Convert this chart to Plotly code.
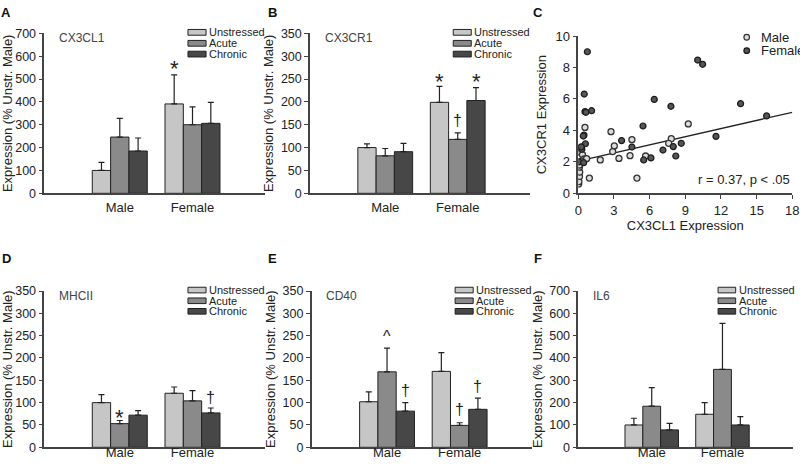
import plotly.graph_objects as go
from plotly.subplots import make_subplots

# ---------------- data ----------------
sexes = ["Male", "Female"]
conditions = ["Unstressed", "Acute", "Chronic"]

# per condition: [Male, Female]
cx3cl1_mean = [[100, 391], [246, 300], [185, 306]]
cx3cl1_err = [[35, 127], [82, 78], [57, 92]]
cx3cr1_mean = [[100, 199], [82, 118], [91, 203]]
cx3cr1_err = [[8, 35], [16, 14], [18, 28]]
mhcii_mean = [[100, 121], [53, 104], [72, 77]]
mhcii_err = [[18, 14], [7, 23], [10, 11]]
cd40_mean = [[102, 170], [169, 49], [81, 85]]
cd40_err = [[22, 42], [53, 6], [19, 25]]
il6_mean = [[100, 148], [184, 349], [78, 100]]
il6_err = [[30, 52], [83, 206], [29, 37]]

# significance marks: (sex index, condition index, symbol, y value)
cx3cl1_marks = [(1, 0, "*", 571)]
cx3cr1_marks = [(1, 0, "*", 257), (1, 2, "*", 257), (1, 1, "†", 160)]
mhcii_marks = [(0, 1, "*", 80), (1, 2, "†", 112)]
cd40_marks = [(0, 1, "^", 255), (0, 2, "†", 128), (1, 1, "†", 84), (1, 2, "†", 137)]
il6_marks = []

# scatter (panel C)
male_x = [0.56, 9.25, 2.75, 4.51, 3.03, 2.89, 3.42, 4.35, 5.66, 7.82, 7.6, 1.85, 0.93, 4.93,
          0.03, 0.05, 0.1, 0.12, 0.1, 0.1, 0.23, 0.2, 0.35, 0.5, 0.3, 0.7]
male_y = [4.19, 4.41, 3.92, 3.41, 3.01, 2.65, 2.22, 2.39, 2.37, 3.47, 3.18, 2.12, 0.97, 0.97,
          0.59, 0.74, 1.07, 1.35, 1.66, 1.8, 2.92, 2.58, 2.45, 2.18, 2.05, 2.2]
female_x = [0.76, 10.04, 10.46, 0.5, 6.39, 13.65, 7.79, 0.56, 0.64, 1.12, 5.44, 15.84, 11.58,
            0.48, 0.42, 0.6, 3.64, 4.51, 7.99, 8.66, 7.12, 8.2, 6.11, 5.5, 0.3, 0.25, 0.06, 0.45]
female_y = [9.0, 8.47, 8.2, 6.31, 5.97, 5.7, 5.53, 5.19, 5.15, 5.25, 4.28, 4.92, 3.62,
            3.7, 3.64, 3.15, 3.35, 2.94, 2.97, 3.18, 2.75, 2.37, 2.25, 2.12, 2.8, 2.95, 2.0, 1.95]
fit_x = [0, 18]
fit_y = [2.05, 5.15]

# ---------------- style / layout ----------------
FONT = "Liberation Sans, Arial, sans-serif"
BAR_COLORS = ["#c6c6c6", "#8a8a8a", "#474747"]
AXIS_COLOR = "#444444"
BARGAP = 0.244
W = (1 - BARGAP) / 3

FIG_W, FIG_H = 800, 468


def px_x(a):
    return a / FIG_W


def px_y(b):
    return 1 - b / FIG_H


x_dom = {(1, 1): (44.3, 265), (1, 2): (310, 530), (1, 3): (578.3, 792.3),
         (2, 1): (44.3, 265), (2, 2): (311.7, 532), (2, 3): (578.3, 793)}
y_dom = {1: (33.3, 193.3), 2: (291, 447.3)}

fig = make_subplots(rows=2, cols=3)

panels = [
    # (row, col, name, mean, err, marks, ymax, dtick)
    (1, 1, "CX3CL1", cx3cl1_mean, cx3cl1_err, cx3cl1_marks, 700, 100),
    (1, 2, "CX3CR1", cx3cr1_mean, cx3cr1_err, cx3cr1_marks, 350, 50),
    (2, 1, "MHCII", mhcii_mean, mhcii_err, mhcii_marks, 350, 50),
    (2, 2, "CD40", cd40_mean, cd40_err, cd40_marks, 350, 50),
    (2, 3, "IL6", il6_mean, il6_err, il6_marks, 700, 100),
]

annotations = []
shapes = []


def axis_index(r, c):
    return (r - 1) * 3 + c


for (r, c, name, mean, err, marks, ymax, dtick) in panels:
    idx = axis_index(r, c)
    xs = "x" if idx == 1 else f"x{idx}"
    ys = "y" if idx == 1 else f"y{idx}"
    for k, cond in enumerate(conditions):
        fig.add_trace(go.Bar(
            x=[0, 1], y=mean[k], name=cond,
            marker=dict(color=BAR_COLORS[k], line=dict(color="#222222", width=1)),
            error_y=dict(type="data", symmetric=False, array=err[k], arrayminus=[0, 0],
                         color="#222222", thickness=1.2, width=3),
            showlegend=False,
        ), row=r, col=c)
    xa, xb = x_dom[(r, c)]
    yt, yb = y_dom[r]
    fig.update_xaxes(row=r, col=c, domain=[px_x(xa), px_x(xb)], range=[-1.038, 1.997],
                     tickvals=[0, 1], ticktext=sexes, showline=True, linecolor=AXIS_COLOR,
                     linewidth=1.5, ticks="", showgrid=False, zeroline=False,
                     tickfont=dict(family=FONT, size=13, color="#222"),
                     ticklabelstandoff=1 if r == 1 else -8)
    fig.update_yaxes(row=r, col=c, domain=[px_y(yb), px_y(yt)], range=[0, ymax], dtick=dtick,
                     showline=True, linecolor=AXIS_COLOR, linewidth=1.5, ticks="outside",
                     ticklen=4, tickcolor=AXIS_COLOR, showgrid=False, zeroline=False,
                     tickfont=dict(family=FONT, size=12.5, color="#222"),
                     title=dict(text="Expression (% Unstr. Male)",
                                font=dict(family=FONT, size=13, color="#222"), standoff=4))
    xd = f"{xs} domain"
    yd = f"{ys} domain"
    # panel name
    annotations.append(dict(text=name, xref=xd, yref=yd, x=0.058, y=0.969, xanchor="left",
                            yanchor="middle", showarrow=False,
                            font=dict(family=FONT, size=12, color="#444")))
    # legend
    for k, cond in enumerate(conditions):
        yc = [1.006, 0.9375, 0.87][k]
        shapes.append(dict(type="rect", xref=xd, yref=yd, x0=0.651, x1=0.733,
                           y0=yc - 0.018, y1=yc + 0.018, fillcolor=BAR_COLORS[k],
                           line=dict(color="#222222", width=1)))
        annotations.append(dict(text=cond, xref=xd, yref=yd, x=0.738, y=yc, xanchor="left",
                                yanchor="middle", showarrow=False,
                                font=dict(family=FONT, size=11, color="#222")))
    # significance marks
    for (s, k, sym, yv) in marks:
        xpos = s + (k - 1) * W
        size = {"*": 22, "†": 16, "^": 16}[sym]
        shift = {"*": -6, "†": 0, "^": -3}[sym]
        annotations.append(dict(text=sym, xref=xs, yref=ys,
                                x=xpos, y=yv, yshift=shift, showarrow=False,
                                xanchor="center", yanchor="middle",
                                font=dict(family=FONT, size=size, color="#222")))

# ---------------- scatter panel C ----------------
fig.add_trace(go.Scatter(x=fit_x, y=fit_y, mode="lines", line=dict(color="#222", width=1.3),
                         showlegend=False), row=1, col=3)
fig.add_trace(go.Scatter(x=male_x, y=male_y, mode="markers", name="Male",
                         marker=dict(size=6, color="#dcdcdc", line=dict(color="#333", width=1.3)),
                         showlegend=False), row=1, col=3)
fig.add_trace(go.Scatter(x=female_x, y=female_y, mode="markers", name="Female",
                         marker=dict(size=6, color="#555555", line=dict(color="#1a1a1a", width=1.2)),
                         showlegend=False), row=1, col=3)
xa, xb = x_dom[(1, 3)]
fig.update_xaxes(row=1, col=3, domain=[px_x(xa), px_x(xb)], range=[0, 18], dtick=3,
                 showline=True, linecolor=AXIS_COLOR, linewidth=1.5, ticks="outside", ticklen=4,
                 tickcolor=AXIS_COLOR, showgrid=False, zeroline=False,
                 tickfont=dict(family=FONT, size=13, color="#222"),
                 title=dict(text="CX3CL1 Expression", font=dict(family=FONT, size=13, color="#222"),
                            standoff=2))
fig.update_yaxes(row=1, col=3, domain=[px_y(193.3), px_y(36)], range=[0, 10], dtick=2,
                 showline=True, linecolor=AXIS_COLOR, linewidth=1.5, ticks="outside", ticklen=4,
                 tickcolor=AXIS_COLOR, showgrid=False, zeroline=False,
                 tickfont=dict(family=FONT, size=13, color="#222"),
                 title=dict(text="CX3CR1 Expression", font=dict(family=FONT, size=13, color="#222"),
                            standoff=6))
for k, (lab, fc, lc) in enumerate([("Male", "#dcdcdc", "#333"), ("Female", "#555555", "#1a1a1a")]):
    yc = [0.992, 0.907][k]
    shapes.append(dict(type="circle", xref="x3 domain", yref="y3 domain",
                       xsizemode="pixel", ysizemode="pixel", xanchor=0.787, yanchor=yc,
                       x0=-2.8, x1=2.8, y0=-2.8, y1=2.8, fillcolor=fc,
                       line=dict(color=lc, width=1.2)))
    annotations.append(dict(text=lab, xref="x3 domain", yref="y3 domain", x=0.846, y=yc,
                            xanchor="left", yanchor="middle", showarrow=False,
                            font=dict(family=FONT, size=13, color="#222")))
annotations.append(dict(text="r = 0.37, p < .05", xref="x3 domain", yref="y3 domain",
                        x=1.0, y=0.085, xanchor="right", yanchor="middle", showarrow=False,
                        font=dict(family=FONT, size=13, color="#222")))

# panel letters
for lab, px, py in [("A", 6, 12), ("B", 272.5, 12), ("C", 537.5, 12),
                    ("D", 6, 258), ("E", 272.5, 258), ("F", 537.5, 258)]:
    annotations.append(dict(text=f"<b>{lab}</b>", xref="paper", yref="paper",
                            x=px_x(px), y=px_y(py), xanchor="center", yanchor="middle",
                            showarrow=False, font=dict(family=FONT, size=13, color="#111")))

fig.update_xaxes(automargin=False)
fig.update_yaxes(automargin=False)
fig.update_layout(width=FIG_W, height=FIG_H,
                  margin=dict(l=0, r=0, t=0, b=0, autoexpand=False),
                  paper_bgcolor="white", plot_bgcolor="white", barmode="group",
                  bargap=BARGAP, bargroupgap=0, showlegend=False,
                  annotations=annotations, shapes=shapes,
                  font=dict(family=FONT, color="#222"))

fig.write_html("out.html", config={"displayModeBar": False},
               post_script="document.body.style.margin='0px';document.body.style.overflow='hidden';")
